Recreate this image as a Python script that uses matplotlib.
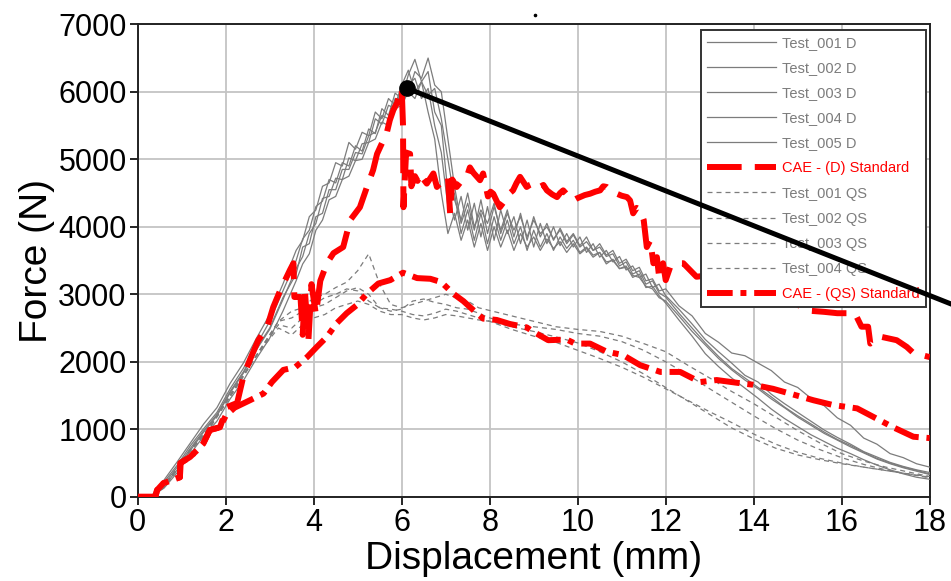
import numpy as np
import matplotlib
matplotlib.use("Agg")
import matplotlib.pyplot as plt
from matplotlib.lines import Line2D

plt.rcParams['font.family'] = ['Liberation Sans', 'DejaVu Sans']

# ---------------------------------------------------------------- data
# displacement grid shared by the dynamic test records (mm)
x_dyn = np.round(np.concatenate([
    np.linspace(0.0, 3.3, 12),
    np.linspace(3.6, 11.85, 56),
    np.linspace(12.0, 18.0, 21),
]), 3)

test_001_d = [
    0, 0, 160, 400, 690, 960, 1200, 1540, 1830, 2180, 2480, 2920,
    3380, 3560, 3900, 4050, 4420, 4450, 4720, 4700, 5020, 4980, 5230, 5250,
    5600, 5520, 5800, 5750, 6050, 5980, 6300, 6200, 6500, 6100, 6000, 5300,
    4600, 4050, 4350, 3950, 4400, 3900, 4300, 3950, 4250, 3850, 4200, 3800,
    4150, 3850, 4050, 3800, 3980, 3780, 3900, 3720, 3850, 3650, 3750, 3580,
    3650, 3460, 3520, 3350, 3400, 3200, 3230, 3050,
    3080, 2830, 2680, 2420, 2290, 2130, 2090, 1980, 1870, 1700, 1620, 1460,
    1350, 1170, 1060, 870, 780, 640, 580, 490, 440,
]
test_002_d = [
    0, 0, 220, 470, 760, 1010, 1250, 1600, 1900, 2250, 2600, 3050,
    3500, 3820, 3950, 4300, 4380, 4700, 4650, 4950, 4900, 5200, 5120, 5450,
    5380, 5750, 5650, 5980, 5900, 6250, 6480, 6150, 6300, 5700, 5500, 4500,
    4100, 4450, 3950, 4350, 3850, 4300, 3800, 4250, 3900, 4150, 3750, 4100,
    3700, 4050, 3750, 4000, 3720, 3900, 3700, 3850, 3620, 3750, 3550, 3650,
    3480, 3560, 3360, 3420, 3250, 3300, 3100, 3150,
    2980, 2780, 2560, 2330, 2150, 1980, 1800, 1700, 1520, 1380, 1250, 1120,
    990, 880, 780, 670, 590, 510, 450, 400, 360,
]
test_003_d = [
    0, 0, 250, 520, 800, 1080, 1320, 1680, 1980, 2350, 2700, 3150,
    3650, 3800, 4150, 4250, 4600, 4650, 4950, 4900, 5250, 5150, 5400, 5350,
    5700, 5600, 5900, 5800, 6100, 6320, 6000, 6150, 5700, 5300, 4500, 3900,
    4200, 3800, 4100, 3700, 4050, 3650, 4000, 3700, 3950, 3650, 3900, 3700,
    3850, 3650, 3820, 3680, 3780, 3620, 3750, 3600, 3680, 3550, 3620, 3480,
    3500, 3380, 3400, 3280, 3250, 3120, 3080, 2950,
    2900, 2680, 2450, 2250, 2050, 1880, 1730, 1600, 1450, 1320, 1180, 1060,
    940, 840, 740, 650, 560, 490, 430, 380, 330,
]
test_004_d = [
    0, 0, 130, 360, 640, 900, 1120, 1450, 1720, 2050, 2350, 2750,
    3200, 3450, 3600, 3950, 4100, 4400, 4450, 4700, 4750, 4980, 5000, 5250,
    5300, 5550, 5500, 5750, 5800, 6000, 5900, 6150, 5950, 6050, 5600, 5000,
    4400, 4100, 4500, 4000, 4250, 4050, 4350, 3900, 4200, 3950, 4150, 3850,
    4100, 3900, 4000, 3820, 3950, 3750, 3880, 3700, 3780, 3650, 3700, 3560,
    3600, 3420, 3480, 3300, 3350, 3150, 3200, 3020,
    2960, 2720, 2500, 2280, 2080, 1900, 1760, 1620, 1480, 1330, 1200, 1080,
    960, 850, 760, 660, 570, 500, 440, 390, 340,
]
test_005_d = [
    0, 0, 190, 440, 720, 980, 1220, 1560, 1850, 2200, 2500, 2950,
    3300, 3700, 3750, 4150, 4200, 4550, 4550, 4850, 4850, 5100, 5080, 5350,
    5400, 5650, 5600, 5900, 5850, 6100, 6200, 5900, 6050, 5500, 5100, 4300,
    4500, 3900, 4250, 3800, 4200, 3750, 4150, 3800, 4100, 3750, 4000, 3650,
    3950, 3700, 3900, 3650, 3850, 3680, 3800, 3620, 3700, 3580, 3620, 3450,
    3520, 3380, 3420, 3250, 3300, 3100, 3120, 2980,
    2870, 2620, 2380, 2120, 1930, 1760, 1610, 1460, 1300, 1160, 1040, 920,
    820, 720, 640, 550, 470, 400, 340, 290, 260,
]

# displacement grid shared by the quasi-static test records (mm)
x_qs = [0, 0.4, 0.8, 1.2, 1.6, 2.0, 2.4, 2.8, 3.2,
        3.5, 3.75, 4.0, 4.25, 4.5, 4.75, 5.0, 5.25, 5.5, 5.75, 6.0, 6.25,
        6.5, 6.75, 7.0, 7.25, 7.5, 7.75, 8.0,
        8.5, 9.0, 9.5, 10.0, 10.5, 11.0, 11.5, 12.0, 12.5, 13.0, 13.5,
        14.0, 14.5, 15.0, 15.5, 16.0, 16.5, 17.0, 17.5, 18.0]

test_001_qs = [0, 0, 330, 700, 1000, 1400, 1800, 2200, 2600,
               2750, 2800, 2950, 3000, 3100, 3180, 3350, 3600, 3150, 2850, 2800, 2850,
               2900, 2950, 3000, 2950, 2900, 2800, 2760,
               2680, 2600, 2520, 2480, 2450, 2380, 2270, 2150, 1950, 1760, 1560,
               1380, 1180, 980, 800, 640, 530, 440, 370, 300]
test_002_qs = [0, 0, 320, 690, 990, 1390, 1790, 2190, 2550,
               2500, 2650, 2800, 2850, 2950, 3050, 3100, 3000, 2800, 2750, 2780, 2900,
               2930, 2880, 2850, 2800, 2780, 2720, 2650,
               2560, 2520, 2480, 2420, 2380, 2300, 2170, 2000, 1810, 1600, 1400,
               1200, 1010, 840, 700, 580, 480, 400, 340, 290]
test_003_qs = [0, 0, 340, 710, 1010, 1410, 1810, 2180, 2500,
               2400, 2550, 2650, 2700, 2800, 2850, 2900, 2850, 2750, 2700, 2700, 2650,
               2620, 2650, 2700, 2680, 2650, 2620, 2600,
               2520, 2450, 2370, 2280, 2150, 2000, 1820, 1620, 1420, 1220, 1020,
               860, 720, 620, 550, 490, 440, 390, 340, 280]
test_004_qs = [0, 0, 310, 680, 980, 1380, 1780, 2200, 2600,
               2650, 2750, 2850, 2950, 3000, 3080, 3050, 2900, 2800, 2780, 2750, 2700,
               2680, 2720, 2780, 2750, 2700, 2650, 2600,
               2480, 2380, 2290, 2170, 2050, 1920, 1770, 1600, 1430, 1260, 1100,
               930, 780, 660, 570, 500, 440, 390, 340, 300]

# CAE prediction, dynamic load case
cae_d_x = [0, 0.4, 0.44, 0.58, 0.96, 0.97, 1.19, 1.35, 1.49, 1.64, 1.87, 2.03,
           2.26, 2.4, 2.55, 2.74, 2.94, 3.08, 3.24, 3.46, 3.54, 3.56, 3.7, 3.75,
           3.8, 3.88, 3.95, 4.05, 4.15, 4.3, 4.45, 4.67, 4.83, 5.05, 5.21, 5.35,
           5.44, 5.51, 5.66, 5.73, 5.81, 5.89, 5.96, 6.0, 6.03, 6.04, 6.1, 6.19,
           6.22, 6.3, 6.36, 6.42, 6.5, 6.57, 6.65, 6.72, 6.8, 6.88, 6.95, 7.05,
           7.1, 7.15, 7.25, 7.36, 7.48, 7.55, 7.63, 7.71, 7.78, 7.85, 7.96, 8.02,
           8.08, 8.16, 8.23, 8.31, 8.39, 8.46, 8.53, 8.61, 8.69, 8.77, 8.84, 8.91,
           8.98, 9.06, 9.14, 9.22, 9.3, 9.42, 9.53, 9.6, 9.67, 9.78, 9.9, 9.98,
           10.05, 10.16, 10.28, 10.4, 10.51, 10.58, 10.66, 10.78, 10.89, 11.0,
           11.12, 11.19, 11.26, 11.34, 11.42, 11.5, 11.57, 11.65, 11.72, 11.8,
           11.85, 11.94, 12.0, 12.1, 12.26, 12.4, 12.55, 12.7, 13.2, 13.8, 14.4,
           15.0, 15.2, 15.6, 15.9, 16.3, 16.45, 16.6, 16.65, 16.9, 17.25, 17.48,
           17.63, 18.0]
cae_d_y = [0, 0, 100, 200, 290, 500, 590, 690, 790, 990, 1030, 1330,
           1390, 1780, 2030, 2320, 2510, 2810, 3060, 3360, 3460, 2960, 2960, 2400,
           3050, 2320, 3150, 2700, 3200, 3460, 3610, 3700, 4100, 4290, 4590, 4840,
           5080, 5180, 5390, 5580, 5730, 5830, 5980, 6050, 5500, 4290, 5100, 5080,
           4600, 4750, 4680, 4790, 4700, 4640, 4720, 4790, 4590, 4650, 4690, 4740,
           4200, 4700, 4590, 4680, 4740, 4880, 4800, 4740, 4690, 4790, 4450, 4520,
           4490, 4380, 4290, 4360, 4440, 4500, 4540, 4650, 4740, 4660, 4590, 4620,
           4640, 4580, 4590, 4620, 4540, 4480, 4440, 4500, 4540, 4460, 4390, 4420,
           4440, 4470, 4490, 4520, 4540, 4600, 4590, 4520, 4490, 4460,
           4440, 4390, 4200, 4280, 4250, 4100, 3700, 3800, 3460, 3550,
           3260, 3460, 3210, 3400, 3460, 3460, 3360, 3260, 3300, 3150, 3000,
           2850, 2760, 2740, 2720, 2720, 2520, 2520, 2270, 2370, 2320, 2220,
           2130, 2070]

# CAE prediction, quasi-static load case
cae_qs_x = [0, 0.4, 0.44, 0.58, 0.96, 0.97, 1.19, 1.35, 1.49, 1.64, 1.87, 2.0,
            2.2, 2.55, 2.86, 3.05, 3.31, 3.58, 3.85, 4.07, 4.3, 4.52, 4.75, 4.98,
            5.21, 5.47, 5.74, 6.03, 6.35, 6.65, 6.9, 7.17, 7.4, 7.62, 7.85, 8.16,
            8.46, 8.84, 8.98, 9.33, 9.75, 9.94, 10.28, 10.66, 11.03, 11.42, 11.88,
            12.33, 12.78, 13.16, 13.61, 13.99, 14.44, 14.82, 15.36, 15.8, 16.35,
            16.73, 17.17, 17.63, 18.0]
cae_qs_y = [0, 0, 100, 200, 290, 500, 590, 690, 790, 990, 1030, 1200,
            1320, 1430, 1530, 1700, 1880, 1920, 2070, 2220, 2370, 2570, 2720, 2840,
            3010, 3160, 3210, 3320, 3240, 3230, 3180, 3010, 2900, 2770, 2640, 2620,
            2560, 2510, 2450, 2320, 2330, 2270, 2270, 2150, 2100, 1950, 1850,
            1850, 1700, 1730, 1690, 1660, 1600, 1530, 1430, 1360, 1310,
            1180, 1030, 890, 870]

# highlighted point on the dynamic prediction
peak_x, peak_y = 6.13, 6050

x_ticks = [0, 2, 4, 6, 8, 10, 12, 14, 16, 18]
y_ticks = [0, 1000, 2000, 3000, 4000, 5000, 6000, 7000]

# ---------------------------------------------------------------- figure
fig = plt.figure(figsize=(9.51, 5.81), dpi=100)
ax = fig.add_axes([0.1448, 0.1449, 0.8328, 0.8133])

grey = '#7c7c7c'
red = '#ff0000'

for name, ys in [('Test_001 D', test_001_d), ('Test_002 D', test_002_d),
                 ('Test_003 D', test_003_d), ('Test_004 D', test_004_d),
                 ('Test_005 D', test_005_d)]:
    ax.plot(x_dyn, ys, color=grey, lw=0.9, label=name, zorder=3)

ax.plot(cae_d_x, cae_d_y, color=red, lw=4.3, dashes=(5.8, 2.2),
        dash_capstyle='butt', solid_joinstyle='miter',
        label='CAE - (D) Standard', zorder=5)

for name, ys in [('Test_001 QS', test_001_qs), ('Test_002 QS', test_002_qs),
                 ('Test_003 QS', test_003_qs), ('Test_004 QS', test_004_qs)]:
    ax.plot(x_qs, ys, color=grey, lw=0.9, dashes=(4.0, 3.2), label=name, zorder=3)

ax.plot(cae_qs_x, cae_qs_y, color=red, lw=4.3, dashes=(4.3, 1.3, 1.0, 1.3),
        dash_capstyle='butt', label='CAE - (QS) Standard', zorder=5)

ax.set_xlim(0, 18)
ax.set_ylim(0, 7000)
ax.set_xticks(x_ticks)
ax.set_yticks(y_ticks)
ax.tick_params(axis='both', direction='out', length=6, width=1.2,
               labelsize=22, pad=2, top=False, right=False)
ax.grid(True, color='#c4c4c4', lw=1.3, zorder=0)
ax.set_axisbelow(True)
for side in ['left', 'bottom', 'top', 'right']:
    ax.spines[side].set_linewidth(1.4)
    ax.spines[side].set_color('#222222')

ax.set_xlabel('Displacement (mm)', fontsize=28, labelpad=2)
ax.set_ylabel('Force (N)', fontsize=28, labelpad=2)

leg = ax.legend(loc='upper right', bbox_to_anchor=(0.995, 0.988),
                fontsize=10.5, labelcolor='linecolor', frameon=True,
                fancybox=False, framealpha=1.0, edgecolor='#333333',
                handlelength=4.75, handletextpad=0.4, labelspacing=0.76,
                borderpad=0.42, borderaxespad=0.0)
leg.get_frame().set_linewidth(1.4)
leg.set_zorder(6)

# marker and leader line from the dynamic prediction peak
ax.plot([peak_x], [peak_y], marker='o', ms=11, color='black', zorder=8,
        clip_on=False)
ax.annotate('', xy=(peak_x, peak_y), xycoords='data',
            xytext=(1.02, 1 - 311.5 / 581), textcoords='figure fraction',
            arrowprops=dict(arrowstyle='-', lw=3.6, color='black',
                            shrinkA=0, shrinkB=0),
            annotation_clip=False, zorder=8)

fig.add_artist(Line2D([535 / 951], [1 - 15 / 581], marker='o', ms=1.6,
                      color='black', transform=fig.transFigure))

fig.savefig('out.png', dpi=100)
